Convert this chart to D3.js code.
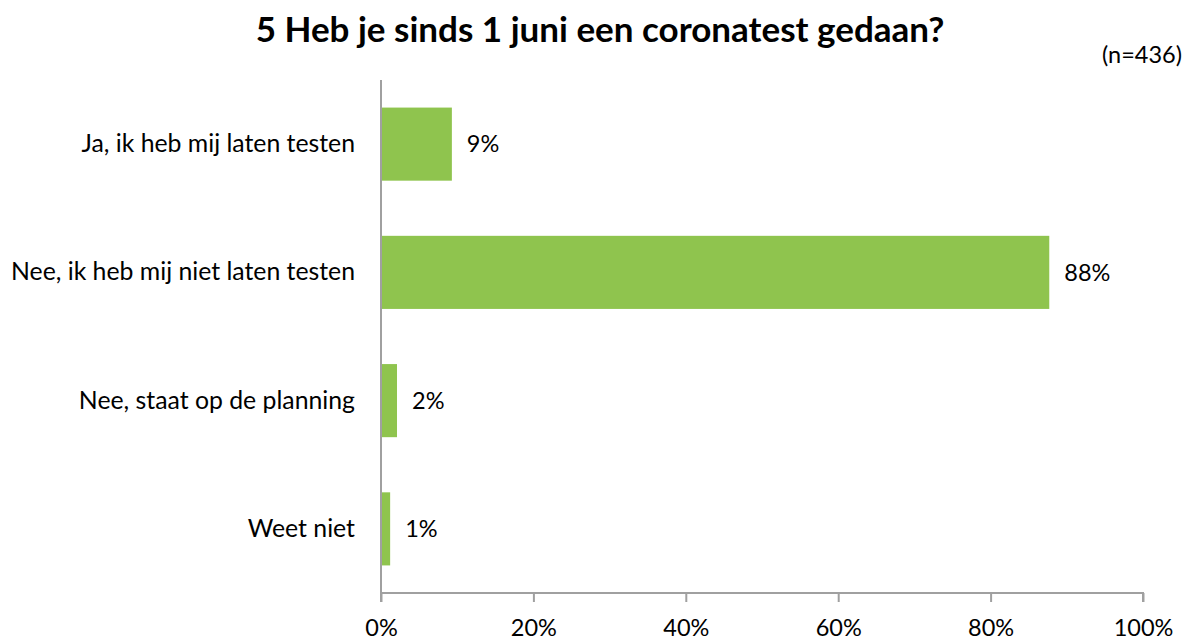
<!DOCTYPE html>
<html><head><meta charset="utf-8">
<script src="https://cdn.jsdelivr.net/npm/d3@7"></script>
<style>body{margin:0;background:#fff;} text{font-family:Lato,"Open Sans",sans-serif;fill:#000;}</style>
</head><body>
<svg id="c" width="1191" height="641"></svg>
<script>
const categories = ["Ja, ik heb mij laten testen","Nee, ik heb mij niet laten testen","Nee, staat op de planning","Weet niet"];
const values = [9.3, 87.7, 2.1, 1.2];
const valueLabels = ["9%","88%","2%","1%"];
const tickValues = [0,20,40,60,80,100];
const title = "5 Heb je sinds 1 juni een coronatest gedaan?";
const note = "(n=436)";

const svg = d3.select("#c");
const m = {left:381, right:1143, top:80, bottom:593};
const x = d3.scaleLinear().domain([0,100]).range([m.left, m.right]);
const y = d3.scaleBand().domain(categories).range([m.top, m.bottom]).paddingInner(0.43).paddingOuter(0.215);

svg.append("text").attr("x",600).attr("y",42).attr("text-anchor","middle")
  .style("font-size","35px").style("font-weight","bold").text(title);
svg.append("text").attr("x",1182).attr("y",63).attr("text-anchor","end")
  .style("font-size","23.5px").text(note);

svg.selectAll("rect.bar").data(values).enter().append("rect")
  .attr("x", x(0)).attr("y",(d,i)=>y(categories[i]))
  .attr("width", d=>x(d)-x(0)).attr("height", y.bandwidth()).attr("fill","#8fc44e");

svg.selectAll("text.val").data(values).enter().append("text")
  .attr("x", d=>x(d)+15).attr("y",(d,i)=>y(categories[i])+y.bandwidth()/2)
  .attr("dy","0.35em").style("font-size","23.5px").text((d,i)=>valueLabels[i]);

const xa = svg.append("g").attr("transform",`translate(0,${m.bottom})`)
  .call(d3.axisBottom(x).tickValues(tickValues).tickSize(9).tickPadding(17).tickFormat(d=>d+"%"));
xa.select(".domain").attr("stroke","#a0a0a0").attr("stroke-width",2).attr("d",`M${m.left},9V0H${m.right}V9`);
xa.selectAll(".tick line").attr("stroke","#a0a0a0").attr("stroke-width",2);
xa.selectAll(".tick text").style("font-size","23.5px").style("font-family","Lato,sans-serif").attr("fill","#000");

const ya = svg.append("g").attr("transform",`translate(${m.left},0)`)
  .call(d3.axisLeft(y).tickSize(0).tickPadding(26));
ya.select(".domain").attr("stroke","#a0a0a0").attr("stroke-width",2).attr("d",`M0,${m.top}V${m.bottom+9}`);
ya.selectAll(".tick text").style("font-size","24.8px").style("font-family","Lato,sans-serif").attr("fill","#000");
</script>
</body></html>
